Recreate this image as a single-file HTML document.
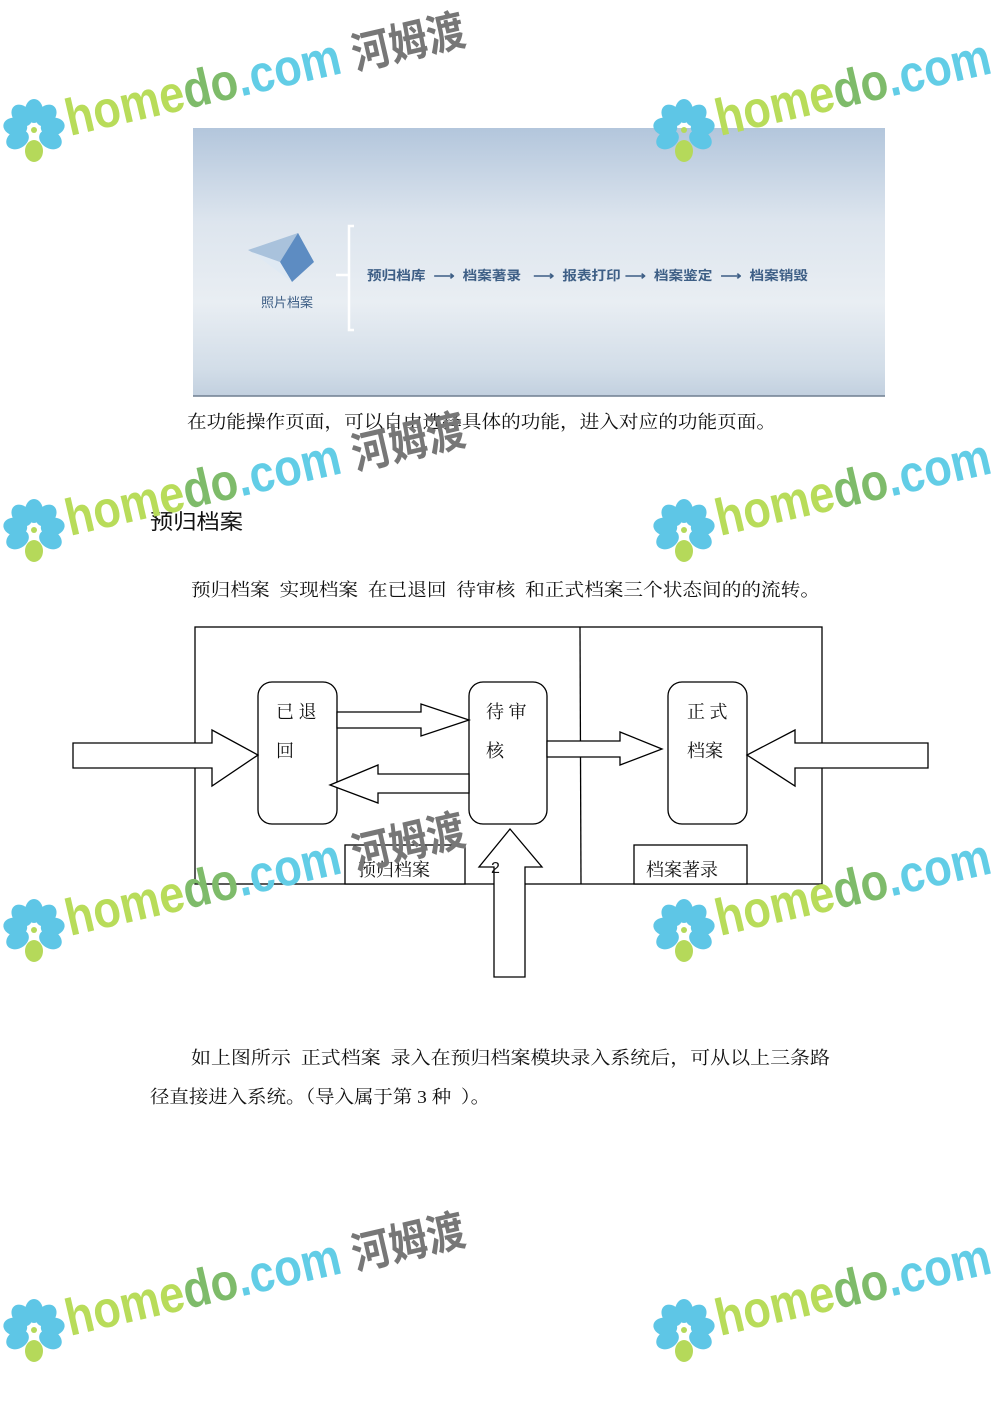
<!DOCTYPE html>
<html><head><meta charset="utf-8"><style>
html,body{margin:0;padding:0;background:#fff;}
svg{display:block;}
</style></head><body>
<svg width="992" height="1403" viewBox="0 0 992 1403" xmlns="http://www.w3.org/2000/svg">
<defs>
<linearGradient id="bg" x1="0" y1="0" x2="0" y2="1">
<stop offset="0" stop-color="#b3c6dc"/>
<stop offset="0.35" stop-color="#dde5ee"/>
<stop offset="0.65" stop-color="#e9eef3"/>
<stop offset="0.9" stop-color="#d2dde8"/>
<stop offset="1" stop-color="#c2d0df"/>
</linearGradient>
<g id="flower">
<g fill="#5ec6e6">
<ellipse cx="0" cy="-19" rx="9" ry="12"/>
<ellipse cx="0" cy="-19" rx="9" ry="12" transform="rotate(40)"/>
<ellipse cx="0" cy="-19" rx="9" ry="12" transform="rotate(80)"/>
<ellipse cx="0" cy="-19" rx="9" ry="12" transform="rotate(120)"/>
<ellipse cx="0" cy="-19" rx="9" ry="12" transform="rotate(-40)"/>
<ellipse cx="0" cy="-19" rx="9" ry="12" transform="rotate(-80)"/>
<ellipse cx="0" cy="-19" rx="9" ry="12" transform="rotate(-120)"/>
</g>
<ellipse cx="0" cy="21" rx="9" ry="11" fill="#b5d95a"/>
<circle cx="0" cy="0" r="3" fill="#b5d95a"/>
</g>
<g id="wm">
<use href="#flower" x="34" y="130"/>
<g transform="translate(70,136) rotate(-13)">
<text x="0" y="0" font-family="Liberation Sans, sans-serif" font-size="52" font-weight="bold" textLength="408" lengthAdjust="spacingAndGlyphs"><tspan fill="#b8dc5a">home</tspan><tspan fill="#7ebb6a">do</tspan><tspan fill="#62cde6">.com </tspan><tspan fill="#777" font-family="Liberation Sans, Noto Sans CJK SC, sans-serif" font-weight="bold" font-size="44">河姆渡</tspan></text>
</g>
</g>
</defs>

<!-- banner -->
<rect x="193" y="128" width="692" height="268" fill="url(#bg)"/>
<line x1="193" y1="396" x2="885" y2="396" stroke="#6f7f90" stroke-width="1.5"/>
<polygon points="248,250 298,233 312,260 289,273" fill="#a9c2dc"/>
<polygon points="298,233 314,262 292,282 280,262" fill="#5d8cc2"/>
<polygon points="252,252 280,262 292,282" fill="#dfe9f3"/>
<text x="261" y="307" font-family="Liberation Sans, Noto Sans CJK SC, sans-serif" font-size="13" fill="#3e5f86">照片档案</text>
<path d="M354,226 H349 V330 H354 M336,275 H349" fill="none" stroke="#fff" stroke-width="2.5"/>
<text x="367" y="280" font-family="Liberation Sans, Noto Sans CJK SC, sans-serif" font-size="13" font-weight="bold" fill="#3e5f86" xml:space="preserve" textLength="441" lengthAdjust="spacingAndGlyphs">预归档库  ⟶  档案著录   ⟶  报表打印 ⟶  档案鉴定  ⟶  档案销毁</text>

<g font-family="Liberation Serif, Noto Serif CJK SC, serif" font-size="18" fill="#111">
<text x="187" y="428" textLength="589" lengthAdjust="spacingAndGlyphs">在功能操作页面，可以自由选择具体的功能，进入对应的功能页面。</text>
<text x="150" y="529" font-size="21" font-family="Liberation Sans, Noto Sans CJK SC, sans-serif" textLength="93" lengthAdjust="spacingAndGlyphs">预归档案</text>
<text x="191" y="596" xml:space="preserve" textLength="629" lengthAdjust="spacingAndGlyphs">预归档案  实现档案  在已退回  待审核  和正式档案三个状态间的的流转。</text>
<text x="191" y="1064" xml:space="preserve" textLength="639" lengthAdjust="spacingAndGlyphs">如上图所示  正式档案  录入在预归档案模块录入系统后，可从以上三条路</text>
<text x="150" y="1103" xml:space="preserve" textLength="340" lengthAdjust="spacingAndGlyphs">径直接进入系统。（导入属于第 3 种  ）。</text>
</g>

<!-- diagram -->
<g fill="#fff" stroke="#000" stroke-width="1.3">
<rect x="195" y="627" width="627" height="257" fill="none"/>
<line x1="580" y1="627" x2="581" y2="884"/>
<rect x="258" y="682" width="79" height="142" rx="14"/>
<rect x="469" y="682" width="78" height="142" rx="14"/>
<rect x="668" y="682" width="79" height="142" rx="14"/>
<rect x="345" y="845" width="120" height="39"/>
<rect x="634" y="845" width="113" height="39"/>
<polygon points="73,743 212,743 212,730 258,755 212,786 212,768 73,768"/>
<polygon points="928,743 795,743 795,730 747,755 795,786 795,768 928,768"/>
<polygon points="337,712 421,712 421,704 469,720 421,736 421,728 337,728"/>
<polygon points="469,774 378,774 378,765 330,785 378,803 378,793 469,793"/>
<polygon points="547,741 620,741 620,732 662,749 620,765 620,757 547,757"/>
<polygon points="494,977 494,867 479,867 510,829 542,867 525,867 525,977"/>
</g>
<g font-family="Liberation Serif, Noto Serif CJK SC, serif" font-size="18" fill="#111" xml:space="preserve">
<text x="276" y="718">已 退</text>
<text x="276" y="757">回</text>
<text x="486" y="718">待 审</text>
<text x="486" y="757">核</text>
<text x="687" y="718">正 式</text>
<text x="687" y="757">档案</text>
<text x="358" y="876">预归档案</text>
<text x="646" y="876">档案著录</text>
<text x="491" y="873" font-size="16" font-family="Liberation Sans, sans-serif">2</text>
</g>

<!-- watermarks -->
<use href="#wm" x="0" y="0"/>
<use href="#wm" x="650" y="0"/>
<use href="#wm" x="0" y="400"/>
<use href="#wm" x="650" y="400"/>
<use href="#wm" x="0" y="800"/>
<use href="#wm" x="650" y="800"/>
<use href="#wm" x="0" y="1200"/>
<use href="#wm" x="650" y="1200"/>
</svg>
</body></html>
